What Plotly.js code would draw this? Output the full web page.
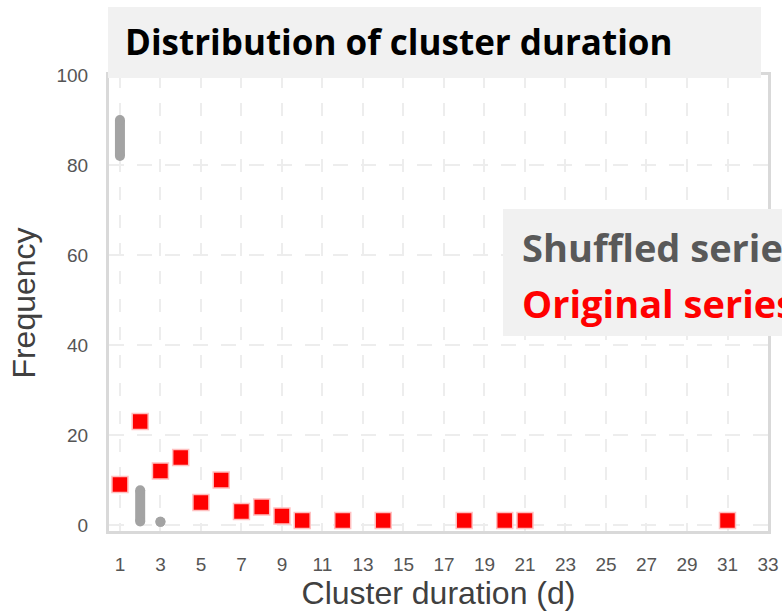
<!DOCTYPE html>
<html>
<head>
<meta charset="utf-8">
<script src="https://cdn.plot.ly/plotly-3.0.1.min.js"></script>
<style>
  html, body { margin: 0; padding: 0; background: #ffffff; }
  #chart { width: 782px; height: 614px; }
</style>
</head>
<body>
<div id="chart"></div>
<script>
// ---- data ----
var originalX = [1, 2, 3, 4, 5, 6, 7, 8, 9, 10, 12, 14, 18, 20, 21, 31];
var originalY = [9, 23, 12, 15, 5, 10, 3, 4, 2, 1, 1, 1, 1, 1, 1, 1];

var shuffledX = [1, 2, 3];
var shuffledLow = [82, 0.8, 0.7];
var shuffledHigh = [90, 7.7, 0.7];

var xTickVals = [1, 3, 5, 7, 9, 11, 13, 15, 17, 19, 21, 23, 25, 27, 29, 31, 33];
var yTickVals = [0, 20, 40, 60, 80, 100];

var titleText = 'Distribution of cluster duration';
var xTitle = 'Cluster duration (d)';
var yTitle = 'Frequency';
var legendLabels = ['Shuffled series', 'Original series'];

// ---- traces ----
var traces = [];
var grey = '#a3a3a3';
for (var i = 0; i < shuffledX.length; i++) {
  traces.push({
    type: 'scatter',
    mode: 'lines+markers',
    x: [shuffledX[i], shuffledX[i]],
    y: [shuffledLow[i], shuffledHigh[i]],
    line: { color: grey, width: 10 },
    marker: { color: grey, size: 10, symbol: 'circle' },
    showlegend: false,
    hoverinfo: 'skip',
    cliponaxis: false
  });
}
traces.push({
  type: 'scatter',
  mode: 'markers',
  x: originalX,
  y: originalY,
  marker: { color: '#ff0000', size: 16, symbol: 'square', line: { color: '#ffc0c0', width: 1.5 } },
  showlegend: false,
  cliponaxis: false
});

var W = 782, H = 614;
var mL = 109, mR = 14, mT = 75, mB = 83;
var pw = W - mL - mR, ph = H - mT - mB;
function px(x) { return (x - mL) / pw; }
function py(y) { return (H - mB - y) / ph; }

var layout = {
  width: W, height: H,
  margin: { l: mL, r: mR, t: mT, b: mB, pad: 0 },
  paper_bgcolor: '#ffffff',
  plot_bgcolor: '#ffffff',
  font: { family: 'Liberation Sans, Arial, sans-serif', color: '#505050' },
  xaxis: {
    range: [0.46, 33.0],
    tickvals: xTickVals,
    ticktext: xTickVals.map(String),
    tickfont: { size: 19, color: '#555555' },
    ticks: '',
    ticklabelstandoff: 14,
    showline: true, linecolor: '#d9d9d9', linewidth: 3, mirror: true,
    showgrid: true, gridcolor: '#ededed', gridwidth: 2, griddash: '13px,15px',
    zeroline: false,
    title: { text: xTitle, font: { size: 32, color: '#404040' }, standoff: 7 },
    automargin: false
  },
  yaxis: {
    range: [-1.33, 100],
    tickvals: yTickVals,
    tickfont: { size: 19, color: '#555555' },
    ticks: '',
    ticklabelstandoff: 14,
    showline: true, linecolor: '#d9d9d9', linewidth: 3, mirror: true,
    showgrid: true, gridcolor: '#ededed', gridwidth: 2, griddash: '15px,13px',
    zeroline: false,
    title: { text: yTitle, font: { size: 32, color: '#404040' }, standoff: 12 },
    automargin: false
  },
  shapes: [
    { type: 'rect', xref: 'paper', yref: 'paper', layer: 'above',
      x0: px(108), x1: px(761), y0: py(78), y1: py(7),
      fillcolor: '#f1f1f1', line: { width: 0 } },
    { type: 'rect', xref: 'paper', yref: 'paper', layer: 'above',
      x0: px(503), x1: px(800), y0: py(336), y1: py(209),
      fillcolor: '#f1f1f1', line: { width: 0 } }
  ],
  annotations: [
    { text: '<b>' + titleText + '</b>', xref: 'paper', yref: 'paper',
      x: px(123), y: py(42), xanchor: 'left', yanchor: 'middle', showarrow: false,
      font: { family: 'Open Sans, Noto Sans, sans-serif', size: 35, color: '#000000' } },
    { text: '<b>' + legendLabels[0] + '</b>', xref: 'paper', yref: 'paper',
      x: px(520), y: py(247), xanchor: 'left', yanchor: 'middle', showarrow: false,
      font: { family: 'Open Sans, Noto Sans, sans-serif', size: 38, color: '#595959' } },
    { text: '<b>' + legendLabels[1] + '</b>', xref: 'paper', yref: 'paper',
      x: px(520), y: py(303), xanchor: 'left', yanchor: 'middle', showarrow: false,
      font: { family: 'Open Sans, Noto Sans, sans-serif', size: 38, color: '#ff0000' } }
  ]
};

Plotly.newPlot('chart', traces, layout, { displayModeBar: false, staticPlot: true });
</script>
</body>
</html>
